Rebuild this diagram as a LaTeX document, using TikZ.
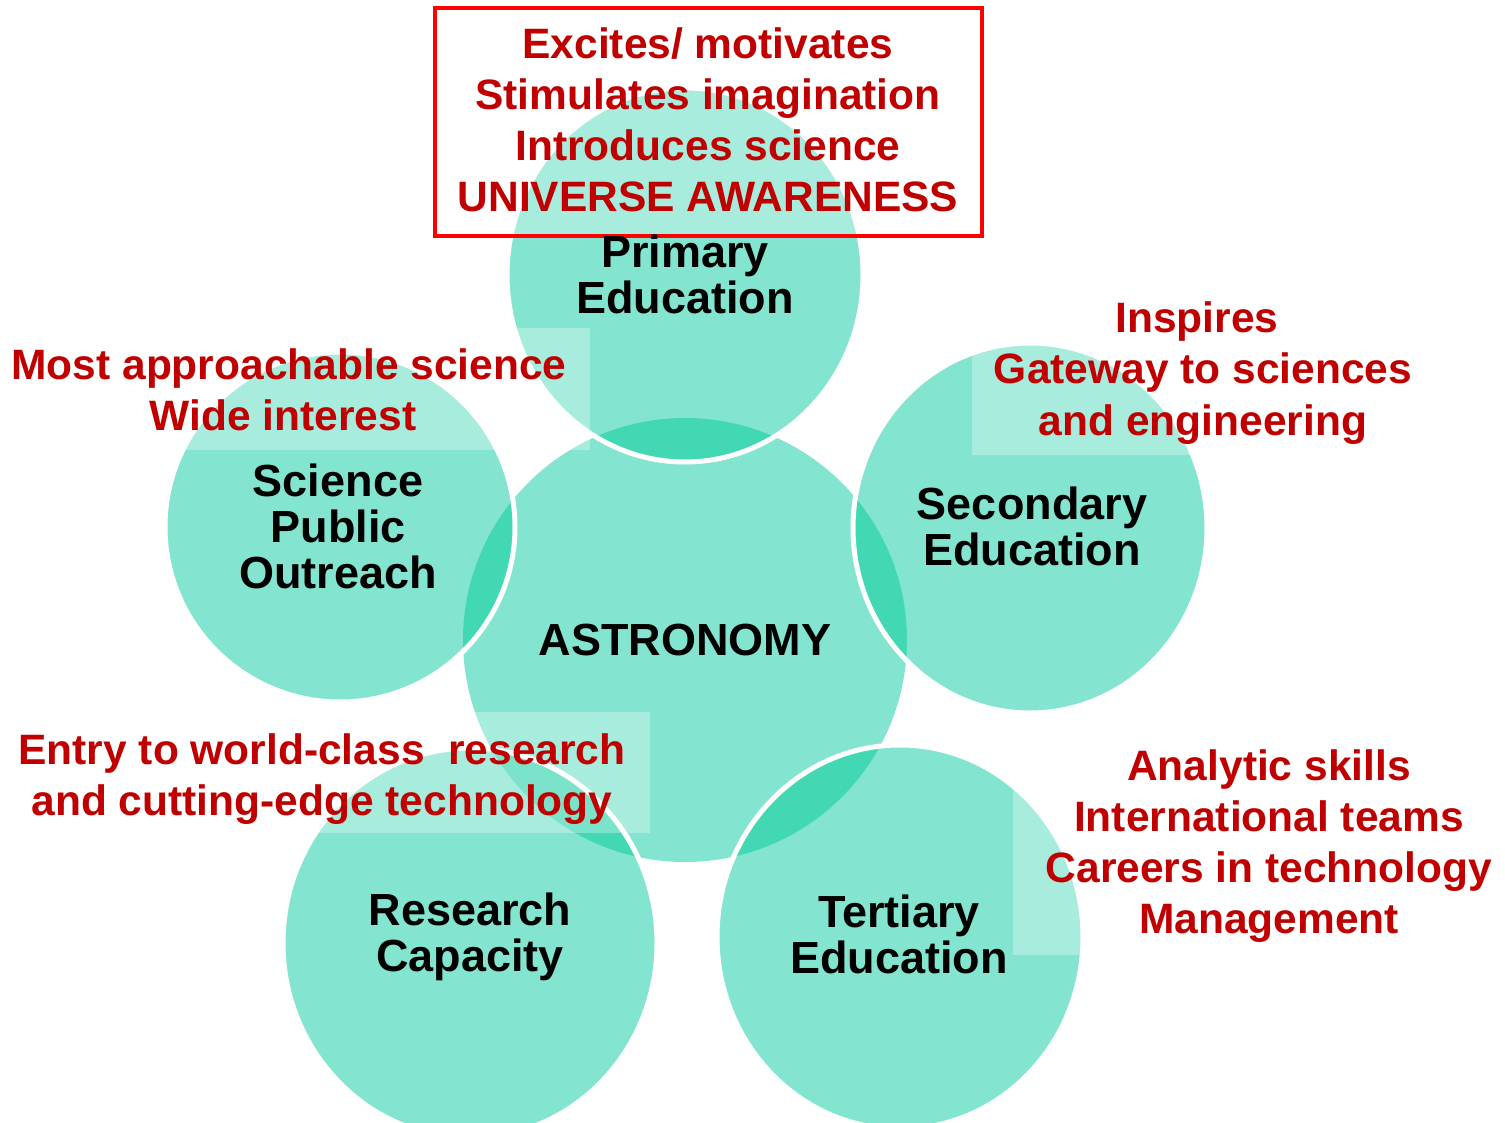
\documentclass[tikz,border=0pt]{standalone}
\usepackage{fontspec}
\setmainfont{Liberation Sans}
\definecolor{tealL}{RGB}{131,229,207}
\definecolor{tealD}{RGB}{66,216,180}
\definecolor{redT}{RGB}{192,0,0}
\definecolor{redB}{RGB}{255,0,0}
\begin{document}
\begin{tikzpicture}[x=0.5pt,y=-0.5pt,
  redtxt/.style={text=redT, font=\fontsize{21.25}{25.6}\selectfont\bfseries, align=center, inner sep=0pt},
  blacktxt/.style={text=black, font=\fontsize{22.5}{23}\selectfont\bfseries, align=center, inner sep=0pt},
  rim/.style={draw=white, line width=2.5pt},
  veil/.style={fill=white, fill opacity=0.3},
  framebox/.style={draw=redB, line width=2pt, fill=white, fill opacity=0.3}]
\useasboundingbox (0,0) rectangle (1505,1123);
\fill[white] (0,0) rectangle (1505,1123);
% central circle
\fill[tealL] (685,640) circle[radius=111pt];
% outer circles
\foreach \cx/\cy/\rx/\ry in {685/275/89/93.5, 1030/528/88.5/92.5, 340/527/87.5/87.5, 470/943/93.5/97.5, 900/937/91.5/96}
  \fill[tealL] (\cx,\cy) ellipse [x radius=\rx pt, y radius=\ry pt];
% overlaps
\begin{scope}
  \clip (685,640) circle[radius=111pt];
  \foreach \cx/\cy/\rx/\ry in {685/275/89/93.5, 1030/528/88.5/92.5, 340/527/87.5/87.5, 470/943/93.5/97.5, 900/937/91.5/96}
    \fill[tealD] (\cx,\cy) ellipse [x radius=\rx pt, y radius=\ry pt];
\end{scope}
% white rims
\foreach \cx/\cy/\rx/\ry in {685/275/89/93.5, 1030/528/88.5/92.5, 340/527/87.5/87.5, 470/943/93.5/97.5, 900/937/91.5/96}
  \draw[rim] (\cx,\cy) ellipse [x radius=\rx pt, y radius=\ry pt];
% translucent text panels
\fill[veil] (5,328) rectangle (590,450);
\fill[veil] (972,300) rectangle (1430,455);
\fill[veil] (15,712) rectangle (650,833);
\fill[veil] (1013,745) rectangle (1495,955);
% top framed box
\path[framebox] (435,8) rectangle (982,236);
% texts
\node[redtxt] (aware) at (708,120) {Excites/ motivates\\Stimulates imagination\\Introduces science\\UNIVERSE AWARENESS};
\node[blacktxt] (primary) at (685,274) {Primary\\Education};
\node[redtxt] (approach) at (289,390) {Most approachable science\\Wide interest\hspace*{6pt}};
\node[blacktxt] (outreach) at (338,526) {Science\\Public\\Outreach};
\node[redtxt] (inspires) at (1203,373) {Inspires\hspace*{6pt}\\Gateway to sciences\\and engineering};
\node[blacktxt] (secondary) at (1032,526) {Secondary\\Education};
\node[blacktxt] (astro) at (685,640) {ASTRONOMY};
\node[redtxt] (entry) at (322,779) {Entry to world-class\ \ research\\and cutting-edge technology};
\node[blacktxt] (research) at (470,937) {Research\\Capacity};
\node[blacktxt] (tertiary) at (899,934) {Tertiary\\Education};
\node[redtxt] (analytic) at (1269,846) {Analytic skills\\International teams\\Careers in technology\\Management};
\end{tikzpicture}
\end{document}
